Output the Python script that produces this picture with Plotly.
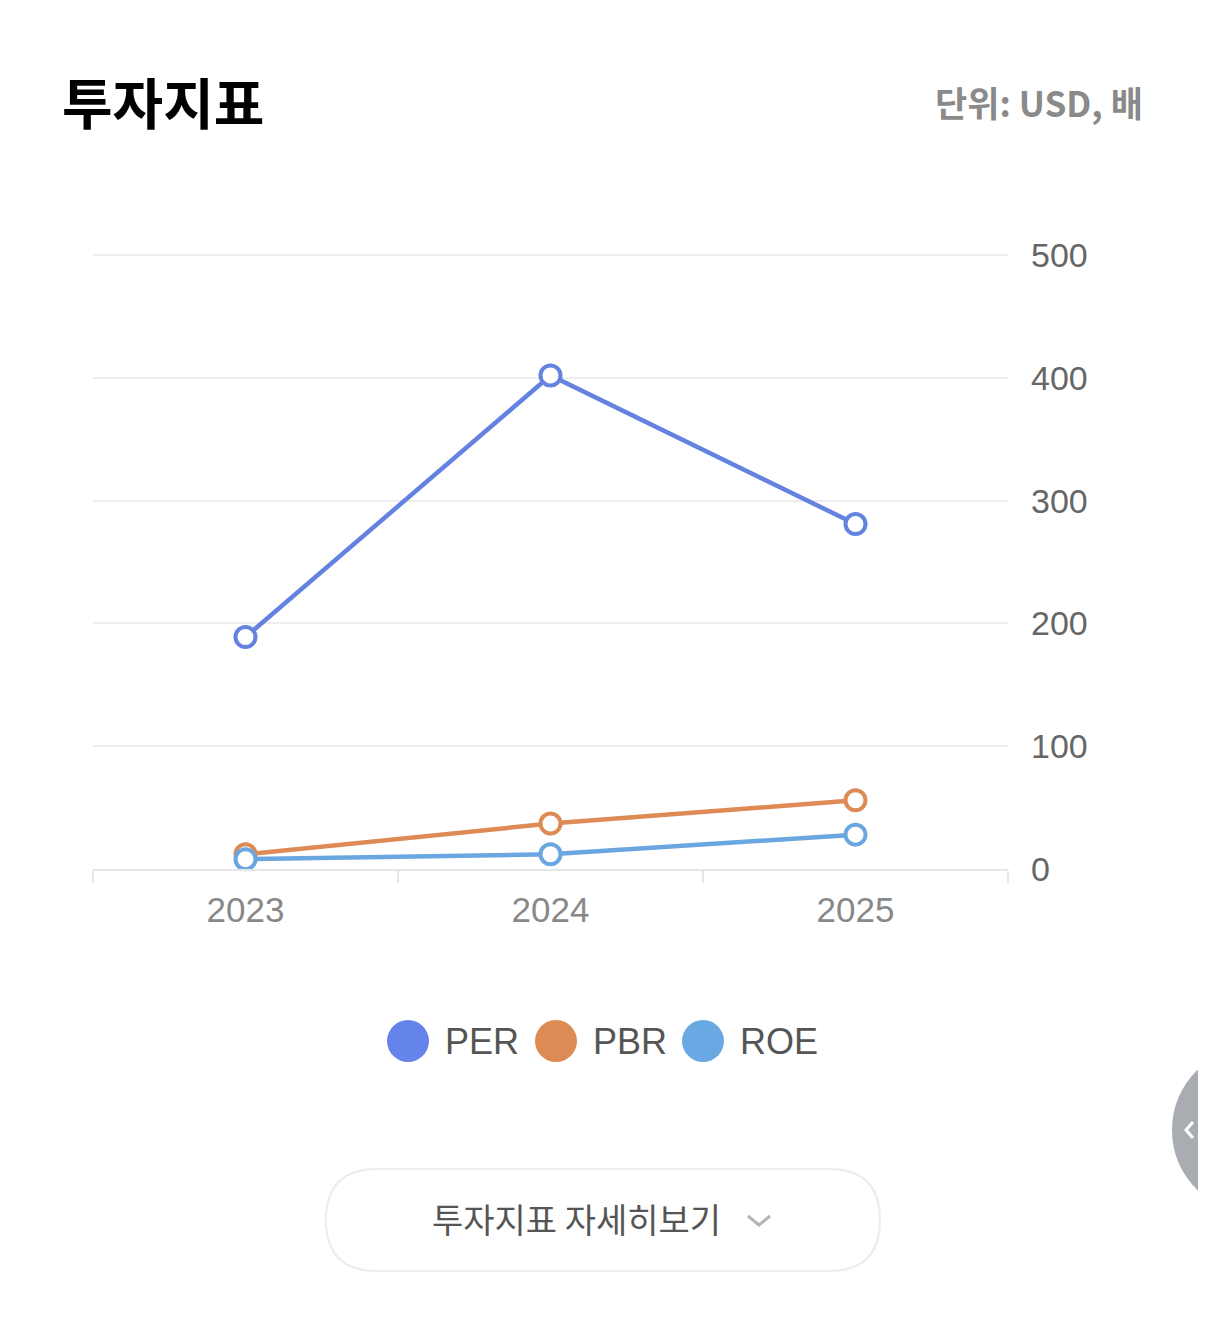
import plotly.graph_objects as go

years = ["2023", "2024", "2025"]
per = [189, 402, 281]
pbr = [12, 37, 56]
roe = [8, 12, 28]
y_ticks = [0, 100, 200, 300, 400, 500]

series = [
    ("PER", per, "#6482e0", "#6484ea"),
    ("PBR", pbr, "#dd8a55", "#dd8a55"),
    ("ROE", roe, "#6aa6e0", "#69a8e3"),
]

OFF = 8  # page body margin
W, H = 1198, 1329
# plot area in screen pixels
SX0, SX1, SY0, SY1 = 93, 1008, 254, 869
L, R, T, B = SX0 - OFF, W - (SX1 - OFF), SY0 - OFF, H - (SY1 - OFF)

fig = go.Figure()
for name, vals, col, _ in series:
    fig.add_trace(go.Scatter(
        x=years, y=vals, name=name, mode="lines+markers",
        line=dict(color=col, width=4.5),
        marker=dict(size=20, color="white", line=dict(color=col, width=4)),
        showlegend=False, cliponaxis=False,
    ))

num_font = "Liberation Sans, Arial, sans-serif"
kr_font = "Noto Sans CJK KR, sans-serif"

fig.update_layout(
    width=W, height=H,
    margin=dict(l=L, r=R, t=T, b=B),
    paper_bgcolor="white", plot_bgcolor="white",
    xaxis=dict(
        type="category", range=[-0.5, 2.5], tickson="boundaries",
        ticks="outside", ticklen=12, tickwidth=2, tickcolor="#e6e6e6",
        showline=True, linecolor="#e6e6e6", linewidth=2,
        showgrid=False, zeroline=False,
        tickfont=dict(family=num_font, size=35, color="#888888"),
        ticklabelstandoff=9,
    ),
    yaxis=dict(
        range=[0, 501], side="right", tickvals=y_ticks,
        ticktext=[str(v) for v in y_ticks],
        showgrid=True, gridcolor="#eeeeee", gridwidth=2,
        zeroline=False, showline=False, ticks="",
        tickfont=dict(family=num_font, size=34, color="#666666"),
        ticklabelstandoff=22,
    ),
)

def px_x(px):
    return (px - OFF - L) / (W - L - R)

def px_y(py):
    return (H - B - (py - OFF)) / (H - T - B)

# Title and unit
fig.add_annotation(text="<b>투자지표</b>", xref="paper", yref="paper",
                   x=px_x(60), y=px_y(100),
                   xanchor="left", yanchor="middle", showarrow=False,
                   font=dict(family=kr_font, size=55, color="#000000"))
fig.add_annotation(text="<b>단위: USD, 배</b>", xref="paper", yref="paper",
                   x=px_x(1145), y=px_y(101),
                   xanchor="right", yanchor="middle", showarrow=False,
                   font=dict(family=kr_font, size=35, color="#8a8a8a"))

# Legend (manual)
leg_y = 1041
leg_items = [("PER", 408, 445), ("PBR", 556, 593), ("ROE", 703, 740)]
for (name, cx, tx), (_, _, _, lcol) in zip(leg_items, series):
    fig.add_shape(type="circle", xref="paper", yref="paper",
                  x0=px_x(cx - 21), x1=px_x(cx + 21),
                  y0=px_y(leg_y + 21), y1=px_y(leg_y - 21),
                  fillcolor=lcol, line=dict(width=0))
    fig.add_annotation(text=name, xref="paper", yref="paper",
                       x=px_x(tx - 2), y=px_y(leg_y), xanchor="left", yanchor="middle",
                       showarrow=False,
                       font=dict(family=num_font, size=36, color="#555555"))

# Button (rounded rectangle)
x0, x1, y0, y1, r = 326, 880, 1169, 1271, 51
def P(x, y):
    return f"{px_x(x)},{px_y(y)}"
path = (f"M {P(x0 + r, y0)} L {P(x1 - r, y0)} "
        f"Q {P(x1, y0)} {P(x1, y0 + r)} Q {P(x1, y1)} {P(x1 - r, y1)} "
        f"L {P(x0 + r, y1)} Q {P(x0, y1)} {P(x0, y1 - r)} Q {P(x0, y0)} {P(x0 + r, y0)} Z")
fig.add_shape(type="path", xref="paper", yref="paper", path=path,
              fillcolor="white", line=dict(color="#ececec", width=2))
fig.add_annotation(text="투자지표 자세히보기", xref="paper", yref="paper",
                   x=px_x(576), y=px_y(1218), xanchor="center", yanchor="middle",
                   showarrow=False,
                   font=dict(family=kr_font, size=34, color="#555555"))
fig.add_shape(type="path", xref="paper", yref="paper",
              path=f"M {P(748, 1216)} L {P(759, 1225)} L {P(770, 1216)}",
              line=dict(color="#b5b5b5", width=3))

# Side tab at right edge
tab = (f"M {P(1206, 1062)} Q {P(1172, 1090)} {P(1172, 1130)} "
       f"Q {P(1172, 1170)} {P(1206, 1198)} Z")
fig.add_shape(type="path", xref="paper", yref="paper", path=tab,
              fillcolor="#a9acb1", line=dict(width=0))
fig.add_shape(type="path", xref="paper", yref="paper",
              path=f"M {P(1193, 1122)} L {P(1186, 1130)} L {P(1193, 1138)}",
              line=dict(color="white", width=3))

fig.write_html("out.html")
